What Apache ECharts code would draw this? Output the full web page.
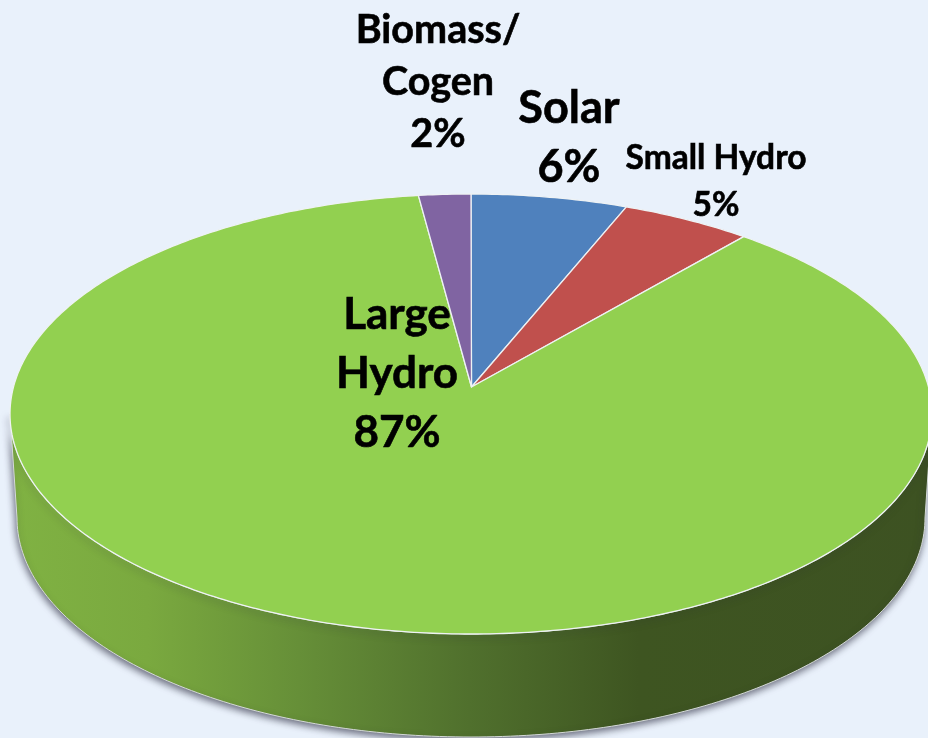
<!DOCTYPE html>
<html><head><meta charset="utf-8">
<style>html,body{margin:0;padding:0;background:#e9f1fb}#c{width:928px;height:738px}</style>
<script src="https://cdn.jsdelivr.net/npm/echarts@6/dist/echarts.min.js"></script>
</head><body><div id="c"></div>
<script>
const categories = ["Solar", "Small Hydro", "Large Hydro", "Biomass/ Cogen"];
const shares = [6, 5, 87, 2];
const sliceColors = ["#4f81bd", "#c0504d", "#92d050", "#8064a2"];
const labelLines = [["Solar"], ["Small Hydro"], ["Large", "Hydro"], ["Biomass/", "Cogen"]];

// layout of the tilted disc
const top3d = {cx: 471, cy: 414, rx: 461, ry: 220, ax: 471.5, ay: 387, k: 0.91};
const bottom3d = {cx: 471, cy: 518, rx: 454, ry: 219};
const labelLayout = [
  {x: 569, y: 131, step: 59, size: 45},
  {x: 716, y: 175, step: 47, size: 33.5},
  {x: 397, y: 337, step: 59, size: 44},
  {x: 438, y: 50, step: 52, size: 39.5}
];
const total = shares.reduce((a, b) => a + b, 0);

function rimPoint(frac) {
  const th = frac * 2 * Math.PI;
  const t = 2 * Math.atan2(top3d.k * Math.sin(th / 2), Math.cos(th / 2));
  return [top3d.cx + top3d.rx * Math.sin(t), top3d.cy - top3d.ry * Math.cos(t)];
}
function renderSlice(params, api) {
  const i = params.dataIndex;
  let before = 0;
  for (let j = 0; j < i; j++) before += shares[j];
  const a = before / total, b = (before + api.value(0)) / total;
  const pts = [[top3d.ax, top3d.ay]];
  const n = Math.max(8, Math.ceil((b - a) * 500));
  for (let s = 0; s <= n; s++) pts.push(rimPoint(a + (b - a) * s / n));
  return {type: 'polygon', shape: {points: pts},
    style: {fill: sliceColors[i], stroke: '#eef2f4', lineWidth: 1.3, lineJoin: 'round'}};
}
function renderWall() {
  const pts = [];
  for (let d = 180; d >= 0; d -= 1) {
    const r = d * Math.PI / 180;
    pts.push([top3d.cx + top3d.rx * Math.cos(r), top3d.cy + top3d.ry * Math.sin(r)]);
  }
  for (let d = 0; d <= 180; d += 1) {
    const r = d * Math.PI / 180;
    pts.push([bottom3d.cx + bottom3d.rx * Math.cos(r), bottom3d.cy + bottom3d.ry * Math.sin(r)]);
  }
  return {type: 'polygon', shape: {points: pts}, style: {
    fill: {type: 'linear', x: 10, y: 0, x2: 928, y2: 0, global: true, colorStops: [
      {offset: 0, color: '#80b243'}, {offset: 0.15, color: '#7aa93f'},
      {offset: 0.315, color: '#668f38'}, {offset: 0.5, color: '#50702d'},
      {offset: 0.685, color: '#3e5521'}, {offset: 1, color: '#3d5222'}]},
    stroke: '#d5dad8', lineWidth: 1,
    shadowColor: 'rgba(40,40,60,0.65)', shadowBlur: 7, shadowOffsetX: -1, shadowOffsetY: 3
  }};
}
function renderLabel(params, api) {
  const i = params.dataIndex, L = labelLayout[i];
  const lines = labelLines[i].concat([api.value(0) + '%']);
  return {type: 'group', children: lines.map((txt, n) => ({
    type: 'text', style: {text: txt, x: L.x, y: L.y + n * L.step, textAlign: 'center',
      textVerticalAlign: 'bottom', fill: '#000', stroke: '#000', lineWidth: 0.6,
      font: 'bold ' + L.size + 'px Lato, sans-serif'}
  }))};
}
const chart = echarts.init(document.getElementById('c'), null, {renderer: 'canvas'});
chart.setOption({
  backgroundColor: '#e9f1fb',
  animation: false,
  series: [
    {type: 'custom', name: 'wall', coordinateSystem: 'none', silent: true, data: [[total]], renderItem: renderWall, z: 1},
    {type: 'custom', name: 'slices', coordinateSystem: 'none', silent: true,
      data: shares.map((v, i) => ({name: categories[i], value: [v]})), renderItem: renderSlice, z: 2},
    {type: 'custom', name: 'labels', coordinateSystem: 'none', silent: true,
      data: shares.map((v, i) => ({name: categories[i], value: [v]})), renderItem: renderLabel, z: 3}
  ]
});
</script></body></html>
